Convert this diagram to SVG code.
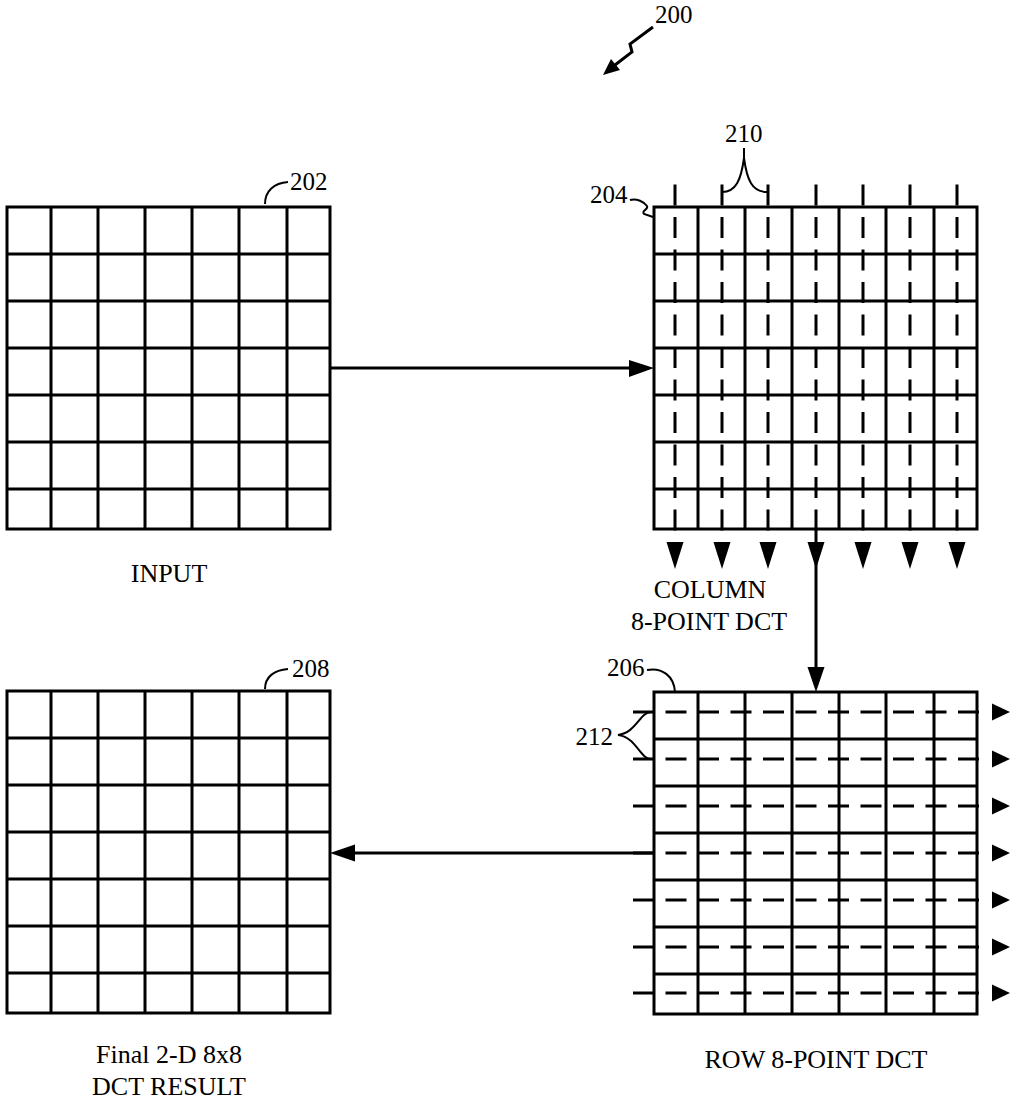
<svg xmlns="http://www.w3.org/2000/svg" width="1019" height="1100" viewBox="0 0 1019 1100">
<style>
.g{fill:none;stroke:#000;stroke-width:3}
.d{fill:none;stroke:#000;stroke-width:3;stroke-dasharray:21 11.5}
.l{fill:none;stroke:#000;stroke-width:2}
.c{fill:none;stroke:#000;stroke-width:3}
.h{fill:#000;stroke:none}
text{font-family:"Liberation Serif","Times New Roman",serif;fill:#000}
.n{font-size:25px}
.t{font-size:26px;text-anchor:middle}
</style>
<rect width="1019" height="1100" fill="#fff"/>
<defs>
<g id="grid">
<rect x="0" y="0" width="323" height="322" class="g"/>
<path class="g" d="M44,0V322M91,0V322M138,0V322M185,0V322M232,0V322M280,0V322M0,47H323M0,94H323M0,141H323M0,188H323M0,235H323M0,282H323"/>
</g>
</defs>
<g id="label200">
<text class="n" x="655" y="23">200</text>
<path class="c" d="M653,27L630,44L632,52L615,65"/>
<polygon class="h" points="603,75 620,70 611,59"/>
</g>
<g id="node202">
<use href="#grid" x="7" y="207"/>
<path class="l" d="M265,204C265,191 274,183 288,182"/>
<text class="n" x="290" y="190">202</text>
<text class="t" x="169" y="582">INPUT</text>
</g>
<g id="node204">
<use href="#grid" x="654" y="207"/>
<path class="d" d="M675,184.5V530.5M722,184.5V530.5M768,184.5V530.5M816,184.5V530.5M863,184.5V530.5M910,184.5V530.5M957,184.5V530.5"/>
<path class="l" d="M630,200C637,198 644,202 647,206C649,209 641,211 644,214L653,217"/>
<text class="n" x="590" y="203">204</text>
<path class="l" d="M722,192C736,192 741,180 744,158C747,180 752,192 767,192M744,158V148"/>
<text class="n" x="725" y="142">210</text>
<g class="h">
<polygon points="666.5,542 683.5,542 675,569"/>
<polygon points="713.5,542 730.5,542 722,569"/>
<polygon points="759.5,542 776.5,542 768,569"/>
<polygon points="807.5,542 824.5,542 816,569"/>
<polygon points="854.5,542 871.5,542 863,569"/>
<polygon points="901.5,542 918.5,542 910,569"/>
<polygon points="948.5,542 965.5,542 957,569"/>
</g>
<text class="t" x="710" y="598">COLUMN</text>
<text class="t" x="709" y="630">8-POINT DCT</text>
</g>
<g id="node206">
<use href="#grid" x="654" y="692"/>
<path class="d" d="M633,712H981M633,759H981M633,806H981M633,853H981M633,900H981M633,947H981M633,993H981"/>
<path class="l" d="M647,670C662,667 674,676 675,692"/>
<text class="n" x="607" y="676">206</text>
<path class="l" d="M651,712C640,712 636,733 618,735C636,737 640,759 651,759"/>
<text class="n" x="613" y="745" text-anchor="end">212</text>
<g class="h">
<polygon points="992,703.5 992,720.5 1010,712"/>
<polygon points="992,750.5 992,767.5 1010,759"/>
<polygon points="992,797.5 992,814.5 1010,806"/>
<polygon points="992,844.5 992,861.5 1010,853"/>
<polygon points="992,891.5 992,908.5 1010,900"/>
<polygon points="992,938.5 992,955.5 1010,947"/>
<polygon points="992,984.5 992,1001.5 1010,993"/>
</g>
<text class="t" x="816" y="1068">ROW 8-POINT DCT</text>
</g>
<g id="node208">
<use href="#grid" x="7" y="691"/>
<path class="l" d="M265,689C265,677 274,670 288,669"/>
<text class="n" x="292" y="677">208</text>
<text class="t" x="169" y="1063">Final 2-D 8x8</text>
<text class="t" x="169" y="1095">DCT RESULT</text>
</g>
<g id="connectors">
<path class="c" d="M330,368H630"/>
<polygon class="h" points="629,360 629,377 654,368"/>
<path class="c" d="M816,530V668"/>
<polygon class="h" points="807.5,667 824.5,667 816,692"/>
<path class="c" d="M654,853H354"/>
<polygon class="h" points="330,853 355,844.5 355,861.5"/>
</g>
</svg>
